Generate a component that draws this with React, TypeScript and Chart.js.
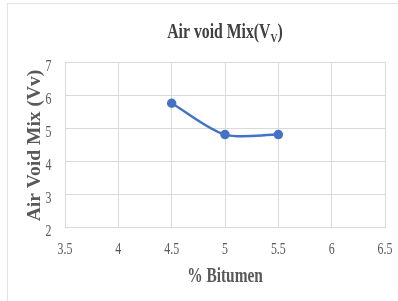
import React, { useEffect, useRef } from "react";
import { Chart, registerables } from "chart.js";

Chart.register(...registerables);

const bitumen = [4.5, 5, 5.5];
const airVoid = [5.75, 4.8, 4.8];
const xTicks = [3.5, 4, 4.5, 5, 5.5, 6, 6.5];
const yTicks = [2, 3, 4, 5, 6, 7];
const titleMain = "Air void Mix(V";
const titleSub = "V";
const titleEnd = ")";
const xTitle = "% Bitumen";
const yTitle = "Air Void Mix (Vv)";

const FONT = "'Liberation Serif', 'Times New Roman', serif";

function drawText(ctx: any, text: string, x: number, y: number, font: string, sx: number, align: string, color: string) {
  ctx.save();
  ctx.translate(x, y);
  ctx.scale(sx, 1);
  ctx.font = font;
  ctx.fillStyle = color;
  ctx.textAlign = align;
  ctx.textBaseline = "alphabetic";
  ctx.fillText(text, 0, 0);
  ctx.restore();
}

const textPlugin = {
  id: "texts",
  afterDraw(chart: any) {
    const ctx = chart.ctx;
    const area = chart.chartArea;
    const xs = chart.scales.x;
    const ys = chart.scales.y;
    const cx = (area.left + area.right) / 2;
    const tickFont = `16.5px ${FONT}`;
    const tickColor = "#595959";
    const sx = 0.72;

    // x tick labels
    xTicks.forEach((v) => {
      drawText(ctx, String(v), xs.getPixelForValue(v), 253.5, tickFont, sx, "center", tickColor);
    });
    // y tick labels
    yTicks.forEach((v) => {
      drawText(ctx, String(v), 51.5, ys.getPixelForValue(v) + 8.5, tickFont, sx, "right", tickColor);
    });

    // x title
    drawText(ctx, xTitle, cx, 281.5, `bold 22px ${FONT}`, 0.7, "center", "#595959");

    // y title (rotated)
    ctx.save();
    ctx.translate(40, (area.top + area.bottom) / 2 + 1);
    ctx.rotate(-Math.PI / 2);
    ctx.font = `bold 19.5px ${FONT}`;
    ctx.fillStyle = "#595959";
    ctx.textAlign = "center";
    ctx.textBaseline = "alphabetic";
    ctx.fillText(yTitle, 0, 0);
    ctx.restore();

    // main title with subscript
    const big = `bold 21px ${FONT}`;
    const small = `bold 13px ${FONT}`;
    const tsx = 0.75;
    ctx.save();
    ctx.font = big;
    const w1 = ctx.measureText(titleMain).width * tsx;
    const w3 = ctx.measureText(titleEnd).width * tsx;
    ctx.font = small;
    const w2 = ctx.measureText(titleSub).width * tsx;
    ctx.restore();
    let x = cx - (w1 + w2 + w3) / 2;
    const y = 38;
    const tc = "#404040";
    drawText(ctx, titleMain, x, y, big, tsx, "left", tc);
    x += w1;
    drawText(ctx, titleSub, x, y + 4, small, tsx, "left", tc);
    x += w2;
    drawText(ctx, titleEnd, x, y, big, tsx, "left", tc);
  },
};

export default function App() {
  const ref = useRef<HTMLCanvasElement>(null);
  useEffect(() => {
    document.body.style.margin = "0";
    const chart = new Chart(ref.current!, {
      type: "line",
      data: {
        datasets: [
          {
            data: bitumen.map((x, i) => ({ x, y: airVoid[i] })),
            borderColor: "#4472C4",
            backgroundColor: "#4472C4",
            borderWidth: 2.5,
            pointRadius: 3.5,
            pointHoverRadius: 3.5,
            tension: 0.3,
          },
        ],
      },
      plugins: [textPlugin],
      options: {
        responsive: false,
        animation: false,
        events: [],
        layout: { padding: { top: 62, right: 13, left: 14, bottom: 14 } },
        plugins: { legend: { display: false }, tooltip: { enabled: false }, title: { display: false } },
        scales: {
          x: {
            type: "linear",
            min: 3.5,
            max: 6.5,
            afterBuildTicks: (s: any) => {
              s.ticks = xTicks.map((v) => ({ value: v }));
            },
            ticks: { display: false },
            grid: { color: "#d9d9d9", drawTicks: false },
            border: { color: "#d9d9d9" },
            afterFit: (s: any) => {
              s.height = 60;
            },
          },
          y: {
            type: "linear",
            min: 2,
            max: 7,
            afterBuildTicks: (s: any) => {
              s.ticks = yTicks.map((v) => ({ value: v }));
            },
            ticks: { display: false },
            grid: { color: "#d9d9d9", drawTicks: false },
            border: { color: "#d9d9d9" },
            afterFit: (s: any) => {
              s.width = 51;
            },
          },
        },
      },
    } as any);
    return () => chart.destroy();
  }, []);
  return (
    <div style={{ position: "relative", width: 398, height: 301, background: "#fff" }}>
      <div
        style={{
          position: "absolute",
          left: 7,
          top: 3,
          width: 391,
          height: 298,
          borderTop: "1px solid #e3e3e3",
          borderLeft: "1px solid #e3e3e3",
          boxSizing: "border-box",
          pointerEvents: "none",
        }}
      />
      <canvas ref={ref} width={398} height={301} style={{ position: "absolute", left: 0, top: 0 }} />
    </div>
  );
}
